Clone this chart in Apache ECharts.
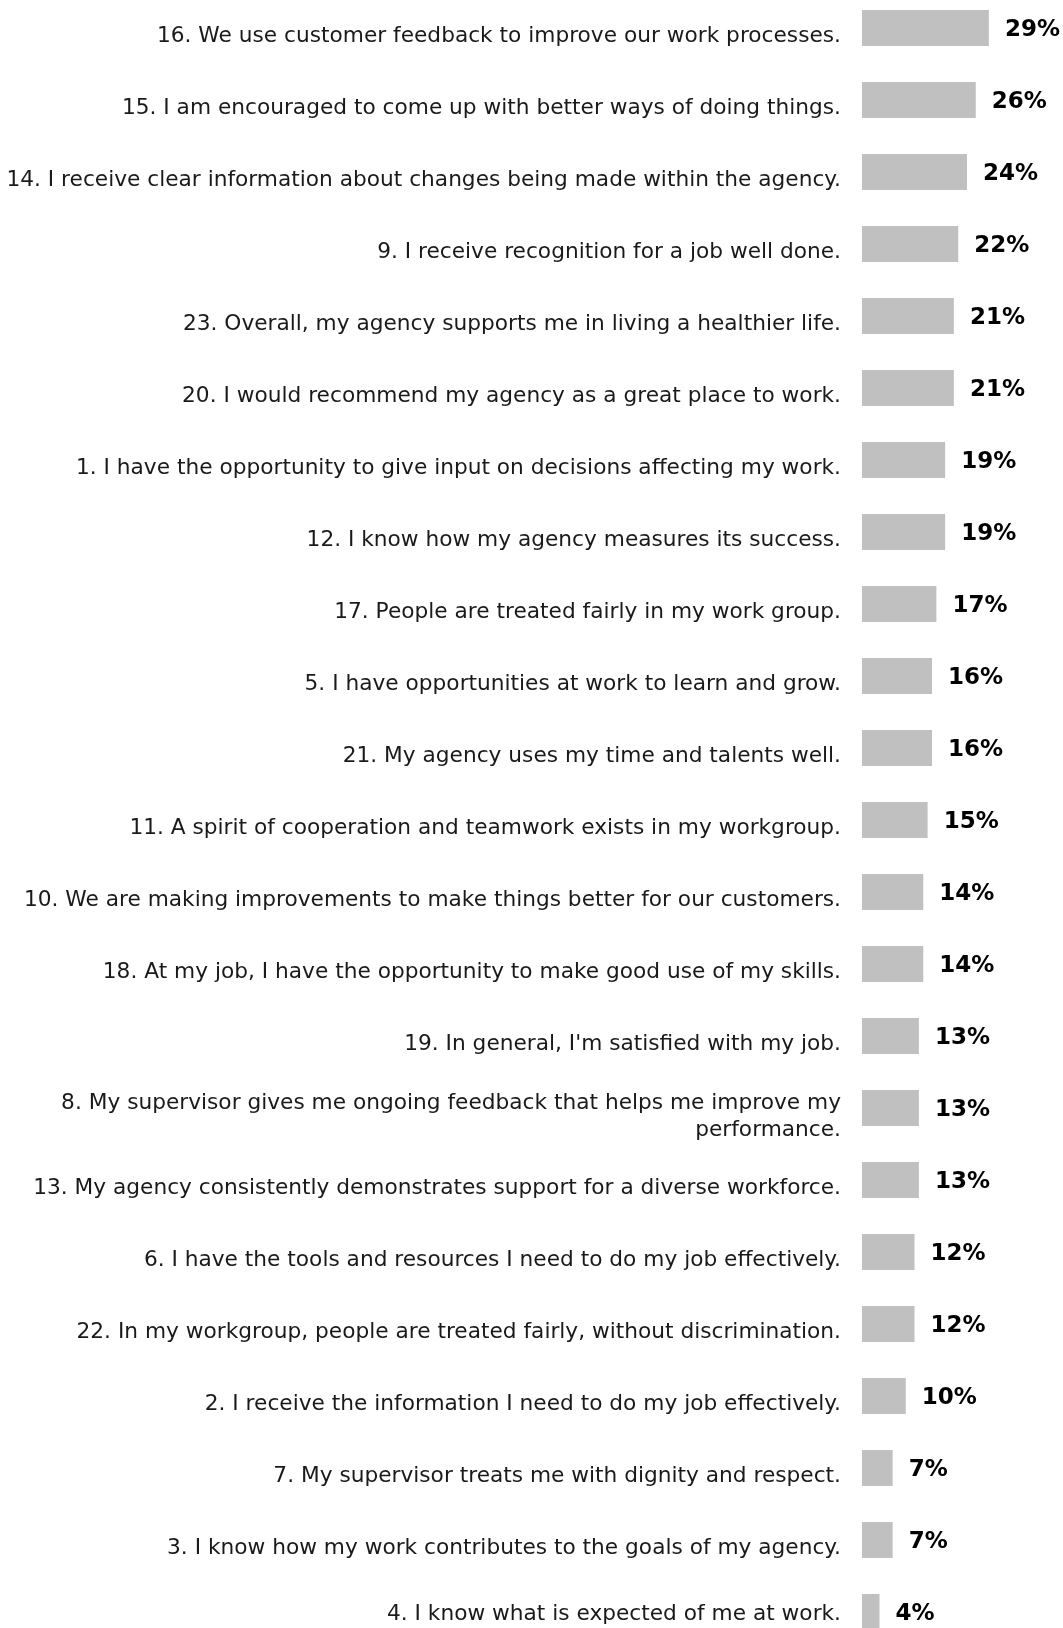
<!DOCTYPE html>
<html>
<head>
<meta charset="utf-8">
<title>Survey items</title>
<script src="https://cdn.jsdelivr.net/npm/echarts@6/dist/echarts.min.js"></script>
<style>
  html, body { margin: 0; padding: 0; background: #ffffff; }
  #chart { width: 1063px; height: 1628px; }
</style>
</head>
<body>
<div id="chart"></div>
<script>
// Survey statements, listed top to bottom
const questions = [
  "16. We use customer feedback to improve our work processes.",
  "15. I am encouraged to come up with better ways of doing things.",
  "14. I receive clear information about changes being made within the agency.",
  "9. I receive recognition for a job well done.",
  "23. Overall, my agency supports me in living a healthier life.",
  "20. I would recommend my agency as a great place to work.",
  "1. I have the opportunity to give input on decisions affecting my work.",
  "12. I know how my agency measures its success.",
  "17. People are treated fairly in my work group.",
  "5. I have opportunities at work to learn and grow.",
  "21. My agency uses my time and talents well.",
  "11. A spirit of cooperation and teamwork exists in my workgroup.",
  "10. We are making improvements to make things better for our customers.",
  "18. At my job, I have the opportunity to make good use of my skills.",
  "19. In general, I'm satisfied with my job.",
  "8. My supervisor gives me ongoing feedback that helps me improve my\nperformance.",
  "13. My agency consistently demonstrates support for a diverse workforce.",
  "6. I have the tools and resources I need to do my job effectively.",
  "22. In my workgroup, people are treated fairly, without discrimination.",
  "2. I receive the information I need to do my job effectively.",
  "7. My supervisor treats me with dignity and respect.",
  "3. I know how my work contributes to the goals of my agency.",
  "4. I know what is expected of me at work."
];

// Percentage for each statement
const percents = [29, 26, 24, 22, 21, 21, 19, 19, 17, 16, 16, 15, 14, 14, 13, 13, 13, 12, 12, 10, 7, 7, 4];

const chart = echarts.init(document.getElementById('chart'), null, { renderer: 'canvas' });

// Category labels sit a little below the bar centre: a thin spacer line
// above the text pushes the centred block down. The bottom row keeps a
// smaller spacer so it stays inside the canvas.
function questionLabel(text, index) {
  const lines = text.split('\n').map(function (s) { return '{t|' + s + '}'; });
  const spacer = index === questions.length - 1 ? '{spLast| }' : '{sp| }';
  return spacer + '\n' + lines.join('\n');
}

chart.setOption({
  backgroundColor: '#ffffff',
  animation: false,
  grid: {
    left: 862,
    right: 26,
    top: -8,
    height: 1656,
    containLabel: false,
    outerBoundsMode: 'none'
  },
  xAxis: {
    type: 'value',
    min: 0,
    max: 40,
    show: false
  },
  yAxis: {
    type: 'category',
    inverse: true,
    data: questions,
    axisLine: { show: false },
    axisTick: { show: false },
    splitLine: { show: false },
    axisLabel: {
      interval: 0,
      margin: 21,
      align: 'right',
      verticalAlign: 'middle',
      hideOverlap: false,
      formatter: questionLabel,
      rich: {
        sp: { fontSize: 1, lineHeight: 17 },
        spLast: { fontSize: 1, lineHeight: 4 },
        t: {
          color: '#1a1a1a',
          fontFamily: 'DejaVu Sans',
          fontSize: 21.7,
          lineHeight: 27,
          align: 'right'
        }
      }
    }
  },
  series: [{
    type: 'bar',
    data: percents,
    barWidth: 36,
    itemStyle: { color: '#c0c0c0' },
    label: {
      show: true,
      position: 'right',
      distance: 16,
      offset: [0, 2],
      formatter: '{c}%',
      color: '#000000',
      fontFamily: 'DejaVu Sans',
      fontWeight: 'bold',
      fontSize: 23
    }
  }]
});
</script>
</body>
</html>
